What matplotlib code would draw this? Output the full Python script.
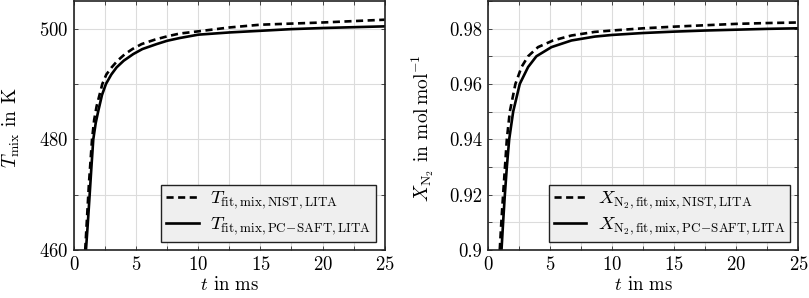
import matplotlib
matplotlib.use("Agg")
import matplotlib.pyplot as plt
from matplotlib.ticker import MultipleLocator

plt.rcParams['mathtext.fontset'] = 'cm'
plt.rcParams['font.family'] = 'serif'
plt.rcParams['font.serif'] = ['cmr10', 'DejaVu Serif']
plt.rcParams['axes.formatter.use_mathtext'] = True

# Left panel: temperature (t in ms, T in K)
t_T_nist = [0.9, 1.05, 1.2, 1.45, 1.62, 1.82, 2.05, 2.28, 2.6, 3.03, 3.5, 4.1, 4.7,
            5.44, 6.5, 7.5, 8.5, 10, 12.5, 15, 17.5, 20, 22.5, 25]
T_nist = [460, 466, 472, 480, 483.5, 486, 488, 490, 491.7, 493.0, 494.2, 495.4, 496.3,
          497.2, 498.0, 498.6, 499.1, 499.5, 500.2, 500.7, 500.9, 501.1, 501.35, 501.6]
t_T_pc = [0.96, 1.1, 1.23, 1.4, 1.55, 1.75, 1.96, 2.25, 2.57, 3.0, 3.43, 4.0, 4.77,
          5.5, 6.65, 7.5, 8.52, 10, 12.5, 15, 17.5, 20, 22.5, 25]
T_pcsaft = [460, 464.5, 469, 475, 480, 483, 485.2, 488, 490, 491.7, 493.0, 494.2, 495.4,
            496.3, 497.2, 497.8, 498.3, 498.9, 499.3, 499.6, 499.9, 500.1, 500.25, 500.4]

# Right panel: mole fraction of N2 (mol/mol)
t_X_nist = [0.96, 1.1, 1.23, 1.53, 1.77, 2.22, 2.71, 3.24, 4.04, 5.25, 6.73, 8.6,
            10, 12.5, 15, 17.5, 20, 22.5, 25]
X_nist = [0.900, 0.911, 0.920, 0.940, 0.950, 0.960, 0.9661, 0.970, 0.9733, 0.9757, 0.9775, 0.9788,
          0.9793, 0.9801, 0.9807, 0.9812, 0.9817, 0.9820, 0.9822]
t_X_pc = [1.10, 1.23, 1.37, 1.53, 1.72, 2.04, 2.57, 3.24, 3.91, 5.12, 6.73, 8.6,
          10, 12.5, 15, 17.5, 20, 22.5, 25]
X_pcsaft = [0.900, 0.910, 0.920, 0.930, 0.940, 0.950, 0.960, 0.9661, 0.970, 0.9733, 0.9757, 0.9771,
            0.9777, 0.9784, 0.9789, 0.9793, 0.9796, 0.9799, 0.9801]

FS = 13.5
DASH = (0, (2.7, 1.7))

fig = plt.figure(figsize=(8.09, 2.98), dpi=100)
ax1 = fig.add_axes([0.0915, 0.161, 0.384, 0.836])
ax2 = fig.add_axes([0.603, 0.161, 0.384, 0.836])

def style(ax):
    ax.set_xlim(0, 25)
    ax.xaxis.set_major_locator(MultipleLocator(5))
    ax.xaxis.set_minor_locator(MultipleLocator(2.5))
    ax.grid(True, which='both', color='#dcdcdc', linewidth=0.8)
    ax.set_axisbelow(True)
    for s in ax.spines.values():
        s.set_linewidth(1.2)
        s.set_color('#222222')
    ax.tick_params(which='both', direction='in', length=3, width=0.7, color='#444444',
                   top=True, right=True, labelsize=FS, pad=4)
    ax.set_xlabel(r'$t$ in ms', fontsize=FS, labelpad=2)

def legend(ax):
    leg = ax.legend(loc='lower right', fontsize=FS, frameon=True, fancybox=False,
                    facecolor='#efefef', edgecolor='#222222', framealpha=1,
                    borderaxespad=0.45, handlelength=1.75, handletextpad=0.6,
                    labelspacing=0.2, borderpad=0.25)
    leg.get_frame().set_linewidth(1.0)

style(ax1)
ax1.plot(t_T_nist, T_nist, color='black', lw=1.9, ls=DASH,
         label=r'$T_{\mathrm{fit,mix,NIST,LITA}}$')
ax1.plot(t_T_pc, T_pcsaft, color='black', lw=1.9,
         label=r'$T_{\mathrm{fit,mix,PC\!-\!SAFT,LITA}}$')
ax1.set_ylim(460, 505)
ax1.yaxis.set_major_locator(MultipleLocator(20))
ax1.yaxis.set_minor_locator(MultipleLocator(10))
ax1.set_ylabel(r'$T_{\mathrm{mix}}$ in K', fontsize=FS + 0.5)
ax1.yaxis.set_label_coords(-0.168, 0.49)
legend(ax1)

style(ax2)
ax2.plot(t_X_nist, X_nist, color='black', lw=1.9, ls=DASH,
         label=r'$X_{\mathrm{N_2,fit,mix,NIST,LITA}}$')
ax2.plot(t_X_pc, X_pcsaft, color='black', lw=1.9,
         label=r'$X_{\mathrm{N_2,fit,mix,PC\!-\!SAFT,LITA}}$')
ax2.set_ylim(0.9, 0.99)
ax2.set_yticks([0.9, 0.92, 0.94, 0.96, 0.98])
ax2.set_yticklabels(['0.9', '0.92', '0.94', '0.96', '0.98'])
ax2.yaxis.set_minor_locator(MultipleLocator(0.01))
ax2.set_ylabel(r'$X_{\mathrm{N_2}}$ in mol$\,$mol$^{-1}$', fontsize=FS + 0.5)
ax2.yaxis.set_label_coords(-0.167, 0.49)
legend(ax2)

fig.savefig('out.png', dpi=100)
